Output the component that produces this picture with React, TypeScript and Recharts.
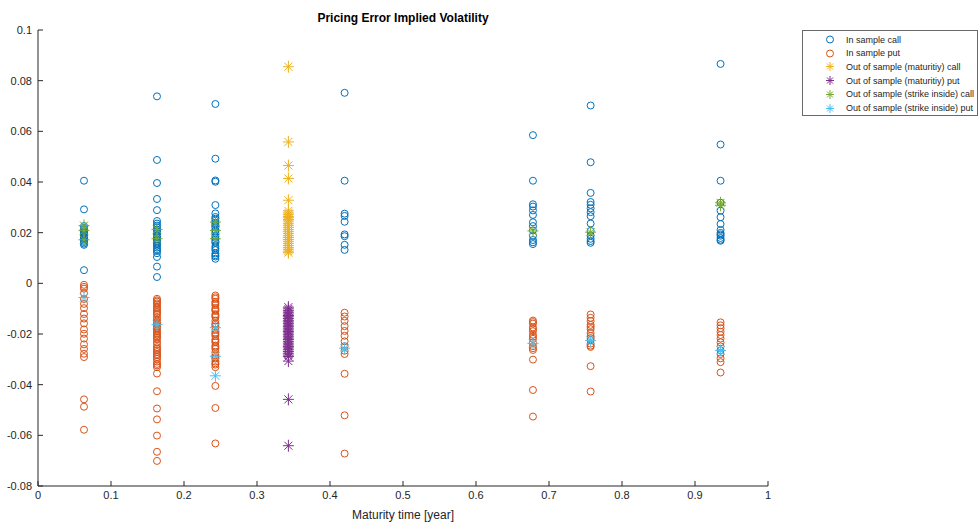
import { Scatter, ScatterChart, XAxis, YAxis } from "recharts"

// maturities (years) of the in-sample option groups
const maturities = [0.063, 0.163, 0.243, 0.42, 0.678, 0.757, 0.935]

// pricing errors, one list per maturity above
const inSampleCall: number[][] = [
  [0.0405, 0.0292, 0.0226, 0.0219, 0.0212, 0.0206, 0.0201, 0.0196, 0.0192, 0.0187, 0.0183, 0.0178, 0.0174, 0.0168, 0.0163, 0.0157, 0.0152, 0.0052],
  [0.0738, 0.0487, 0.0396, 0.0333, 0.0289, 0.0246, 0.0236, 0.0228, 0.0221, 0.0213, 0.0206, 0.0199, 0.0191, 0.0186, 0.0182, 0.0174, 0.0168, 0.0161, 0.0155, 0.0149, 0.0141, 0.0134, 0.0128, 0.0119, 0.0104, 0.0066, 0.0025],
  [0.0708, 0.0492, 0.0406, 0.0401, 0.0309, 0.0276, 0.0262, 0.0255, 0.0247, 0.0239, 0.0233, 0.0227, 0.0221, 0.0212, 0.0204, 0.0197, 0.0186, 0.0179, 0.0172, 0.0165, 0.0159, 0.0146, 0.0138, 0.0131, 0.0118, 0.0111, 0.0106, 0.0097],
  [0.0752, 0.0405, 0.0275, 0.0266, 0.0243, 0.0193, 0.0186, 0.0152, 0.0132],
  [0.0585, 0.0405, 0.0312, 0.0303, 0.0288, 0.027, 0.0241, 0.0226, 0.0209, 0.0188, 0.0171, 0.0162, 0.0155],
  [0.0702, 0.0478, 0.0357, 0.0321, 0.031, 0.0296, 0.0281, 0.0265, 0.0236, 0.0207, 0.0189, 0.0176, 0.0167, 0.016],
  [0.0866, 0.0548, 0.0405, 0.0318, 0.0287, 0.0261, 0.0234, 0.0211, 0.0199, 0.0193, 0.0188, 0.0179, 0.0172, 0.0168],
]

const inSamplePut: number[][] = [
  [-0.0006, -0.0014, -0.0021, -0.0039, -0.0062, -0.0081, -0.0098, -0.0121, -0.0139, -0.0158, -0.0182, -0.0199, -0.0218, -0.0241, -0.0259, -0.0278, -0.0291, -0.0458, -0.0487, -0.0578],
  [-0.0061, -0.0067, -0.0072, -0.0079, -0.0084, -0.0093, -0.0099, -0.0105, -0.0112, -0.0118, -0.0123, -0.0134, -0.0142, -0.0151, -0.0156, -0.0163, -0.0171, -0.0176, -0.0182, -0.0189, -0.0196, -0.0202, -0.0209, -0.0214, -0.0221, -0.0232, -0.0241, -0.0252, -0.0258, -0.0264, -0.0271, -0.0279, -0.0284, -0.0291, -0.0298, -0.0309, -0.0318, -0.0324, -0.0331, -0.0356, -0.0426, -0.0494, -0.0537, -0.0601, -0.0665, -0.0701],
  [-0.0048, -0.0055, -0.0061, -0.0073, -0.0079, -0.0086, -0.0098, -0.0104, -0.0109, -0.0122, -0.0128, -0.0133, -0.0147, -0.0158, -0.0164, -0.0171, -0.0184, -0.0195, -0.0201, -0.0208, -0.0221, -0.0227, -0.0233, -0.0246, -0.0252, -0.0259, -0.0272, -0.0284, -0.0291, -0.0297, -0.0309, -0.0316, -0.0321, -0.0331, -0.0405, -0.0492, -0.0632],
  [-0.0116, -0.0131, -0.0148, -0.0169, -0.0188, -0.0207, -0.0229, -0.0248, -0.0266, -0.0279, -0.0357, -0.0521, -0.0672],
  [-0.0147, -0.0153, -0.0159, -0.0174, -0.0181, -0.0189, -0.0203, -0.0211, -0.0219, -0.0234, -0.0248, -0.0256, -0.0263, -0.0301, -0.0421, -0.0526],
  [-0.0123, -0.0136, -0.0149, -0.0164, -0.0172, -0.0181, -0.0196, -0.0208, -0.0216, -0.0224, -0.0238, -0.0246, -0.0251, -0.0327, -0.0427],
  [-0.0154, -0.0166, -0.0177, -0.0191, -0.0204, -0.0218, -0.0233, -0.0249, -0.0264, -0.0279, -0.0296, -0.0311, -0.0352],
]

// out-of-sample (maturity) group
const oosMaturity = 0.343
const oosMaturityCall = [0.0855, 0.0558, 0.0465, 0.0414, 0.0328, 0.0286, 0.0278, 0.0271, 0.0264, 0.0259, 0.0252, 0.0246, 0.0237, 0.0229, 0.0221, 0.0212, 0.0204, 0.0196, 0.0188, 0.0181, 0.0173, 0.0166, 0.0158, 0.0149, 0.0141, 0.0134, 0.0127, 0.0121]
const oosMaturityPut = [-0.0094, -0.0101, -0.0108, -0.0114, -0.0121, -0.0127, -0.0132, -0.0139, -0.0146, -0.0152, -0.0158, -0.0165, -0.0171, -0.0177, -0.0184, -0.019, -0.0196, -0.0203, -0.0209, -0.0216, -0.0222, -0.0229, -0.0236, -0.0243, -0.0249, -0.0255, -0.0262, -0.0269, -0.0276, -0.0283, -0.0289, -0.0307, -0.0458, -0.0641]

// out-of-sample (strike inside), same maturities as the in-sample groups
const strikeInsideCall: number[][] = [
  [0.0228, 0.0208, 0.0172],
  [0.0213, 0.0176],
  [0.0242, 0.0209, 0.0176],
  [],
  [0.0207],
  [0.0202],
  [0.0318, 0.0308],
]
const strikeInsidePut: number[][] = [
  [-0.0056],
  [-0.0163],
  [-0.0175, -0.0288, -0.0365],
  [-0.0256],
  [-0.0237],
  [-0.0226],
  [-0.0265],
]

const xTicks = [0, 0.1, 0.2, 0.3, 0.4, 0.5, 0.6, 0.7, 0.8, 0.9, 1]
const yTicks = [-0.08, -0.06, -0.04, -0.02, 0, 0.02, 0.04, 0.06, 0.08, 0.1]

const COLORS = {
  call: "#0072BD",
  put: "#D95319",
  matCall: "#EDB120",
  matPut: "#7E2F8E",
  strikeCall: "#77AC30",
  strikePut: "#4DBEEE",
}

const FONT = "'Liberation Sans', Arial, sans-serif"

const toPoints = (xs: number[], groups: number[][]) =>
  groups.flatMap((g, i) => g.map((y) => ({ x: xs[i], y })))

const ring = (color: string) => (props: any) =>
  <circle cx={props.cx} cy={props.cy} r={3.5} fill="none" stroke={color} strokeWidth={1} />

const star = (color: string) => (props: any) => {
  const { cx, cy } = props
  const d = 4
  return (
    <g stroke={color} strokeWidth={1}>
      <line x1={cx - 5.5} y1={cy} x2={cx + 5.5} y2={cy} />
      <line x1={cx} y1={cy - 6} x2={cx} y2={cy + 6} />
      <line x1={cx - d} y1={cy - d} x2={cx + d} y2={cy + d} />
      <line x1={cx - d} y1={cy + d} x2={cx + d} y2={cy - d} />
    </g>
  )
}

const legendItems = [
  { label: "In sample call", color: COLORS.call, kind: "ring" },
  { label: "In sample put", color: COLORS.put, kind: "ring" },
  { label: "Out of sample (maturitiy) call", color: COLORS.matCall, kind: "star" },
  { label: "Out of sample (maturitiy) put", color: COLORS.matPut, kind: "star" },
  { label: "Out of sample (strike inside) call", color: COLORS.strikeCall, kind: "star" },
  { label: "Out of sample (strike inside) put", color: COLORS.strikePut, kind: "star" },
]

const fmt = (v: number) => String(Number(v.toFixed(2)))

function LegendBox() {
  return (
    <div
      style={{
        position: "absolute",
        left: 802,
        top: 30,
        width: 176,
        height: 86,
        border: "1px solid #6a6a6a",
        background: "#fff",
        boxSizing: "border-box",
        fontFamily: FONT,
        fontSize: 9,
        color: "#262626",
      }}
    >
      {legendItems.map((it, i) => (
        <div key={it.label} style={{ position: "absolute", left: 0, top: 2 + i * 13.7, height: 13, display: "flex", alignItems: "center", whiteSpace: "nowrap" }}>
          <svg width={14} height={13} style={{ marginLeft: 20, marginRight: 9 }}>
            {it.kind === "ring" ? ring(it.color)({ cx: 7, cy: 6.5 }) : (
              <g stroke={it.color} strokeWidth={1}>
                <line x1={3} y1={6.5} x2={11} y2={6.5} />
                <line x1={7} y1={2} x2={7} y2={11} />
                <line x1={4} y1={3.5} x2={10} y2={9.5} />
                <line x1={4} y1={9.5} x2={10} y2={3.5} />
              </g>
            )}
          </svg>
          <span>{it.label}</span>
        </div>
      ))}
    </div>
  )
}

export default function App() {
  const axisColor = "#262626"
  const tickStyle = { fontSize: 11, fill: axisColor, fontFamily: FONT }
  return (
    <div style={{ position: "absolute", left: 0, top: 0, width: 979, height: 524, background: "#fff" }}>
      <div
        style={{
          position: "absolute",
          left: 38,
          width: 730,
          top: 11,
          textAlign: "center",
          fontFamily: FONT,
          fontWeight: "bold",
          fontSize: 12,
          color: "#000",
        }}
      >
        Pricing Error Implied Volatility
      </div>
      <ScatterChart width={979} height={524} margin={{ top: 30, right: 211, bottom: 8, left: 8 }}>
        <XAxis
          type="number"
          dataKey="x"
          domain={[0, 1]}
          ticks={xTicks}
          tickFormatter={fmt}
          height={30}
          tickSize={-5}
          tickMargin={10}
          stroke={axisColor}
          tick={tickStyle}
          label={{ value: "Maturity time [year]", position: "bottom", offset: -6, fill: axisColor, fontSize: 12, fontFamily: FONT }}
        />
        <YAxis
          type="number"
          dataKey="y"
          domain={[-0.08, 0.1]}
          ticks={yTicks}
          tickFormatter={fmt}
          width={30}
          tickSize={-5}
          tickMargin={11}
          stroke={axisColor}
          tick={tickStyle}
        />
        <Scatter data={toPoints(maturities, inSampleCall)} shape={ring(COLORS.call)} isAnimationActive={false} />
        <Scatter data={toPoints(maturities, inSamplePut)} shape={ring(COLORS.put)} isAnimationActive={false} />
        <Scatter data={oosMaturityCall.map((y) => ({ x: oosMaturity, y }))} shape={star(COLORS.matCall)} isAnimationActive={false} />
        <Scatter data={oosMaturityPut.map((y) => ({ x: oosMaturity, y }))} shape={star(COLORS.matPut)} isAnimationActive={false} />
        <Scatter data={toPoints(maturities, strikeInsideCall)} shape={star(COLORS.strikeCall)} isAnimationActive={false} />
        <Scatter data={toPoints(maturities, strikeInsidePut)} shape={star(COLORS.strikePut)} isAnimationActive={false} />
      </ScatterChart>
      <LegendBox />
    </div>
  )
}
